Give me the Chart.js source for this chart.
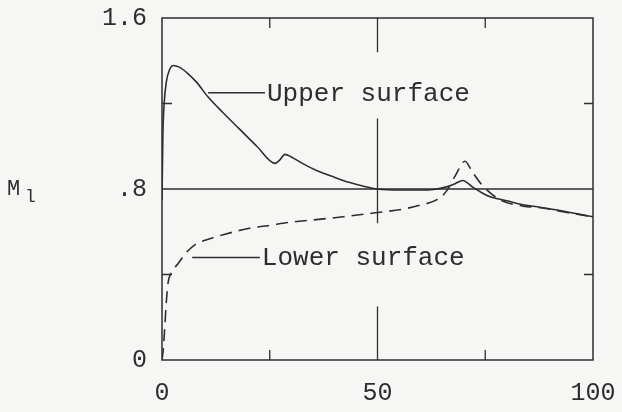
<!DOCTYPE html>
<html>
<head>
<meta charset="utf-8">
<script src="https://cdn.jsdelivr.net/npm/chart.js@4.4.0/dist/chart.umd.min.js"></script>
<style>
  html, body { margin: 0; padding: 0; background: #f6f6f5; }
  #wrap { width: 622px; height: 412px; }
</style>
</head>
<body>
<div id="wrap"><canvas id="chart" width="622" height="412"></canvas></div>
<script>
// chordwise station, percent chord
const upperX = [0, 0.2, 0.5, 1, 1.8, 2.6, 4, 6, 8, 10.7, 14, 18, 22, 26.2, 27.3, 28.5, 30, 33, 36, 40, 43.6, 47, 50, 55, 60, 63, 66, 68, 69.8, 72, 74, 76, 80, 84, 87.7, 92, 96, 100];
const upperM = [0.75, 1.05, 1.2, 1.3, 1.36, 1.378, 1.37, 1.34, 1.30, 1.23, 1.16, 1.08, 1.0, 0.92, 0.935, 0.962, 0.95, 0.915, 0.885, 0.855, 0.83, 0.812, 0.8, 0.795, 0.795, 0.798, 0.81, 0.825, 0.84, 0.81, 0.785, 0.765, 0.745, 0.725, 0.715, 0.70, 0.685, 0.67];

const lowerX = [0, 0.3, 0.6, 1, 1.4, 2.2, 3.7, 5.5, 7.7, 10, 14, 20, 25, 30, 35, 42, 50, 55.7, 60, 63.8, 66, 68, 70.3, 72, 74.2, 78.4, 83.8, 88, 94, 100];
const lowerM = [0, 0.05, 0.14, 0.27, 0.36, 0.41, 0.45, 0.5, 0.54, 0.56, 0.585, 0.615, 0.63, 0.645, 0.655, 0.67, 0.69, 0.705, 0.725, 0.75, 0.79, 0.86, 0.93, 0.88, 0.82, 0.75, 0.72, 0.712, 0.69, 0.67];

const xTickLabels = [0, 50, 100];
const yTickLabels = [0, 0.8, 1.6];
const minorXTicks = [25, 75];
const minorYTicks = [0.4, 1.2];

// label leaders: [x0, x1, M] in data units, then text
const upperLeader = [10.7, 23.9, 1.25];
const lowerLeader = [7, 22.7, 0.48];
const upperText = 'Upper surface';
const lowerText = 'Lower surface';

// broken reference line at 50 percent: [from, to] in M
const midLineParts = [[1.6, 1.44], [1.13, 0.64], [0.25, 0]];
const refM = 0.8;

const INK = '#2e2e2e';
const FONT = 'Liberation Mono, DejaVu Sans Mono, monospace';

const paperPlugin = {
    id: 'paper',
    afterDatasetsDraw(chart) {
        const {ctx, chartArea: a, scales: {x, y}} = chart;
        ctx.save();
        ctx.strokeStyle = INK;
        ctx.lineWidth = 1.5;
        ctx.strokeRect(a.left, a.top, a.right - a.left, a.bottom - a.top);

        ctx.beginPath();
        ctx.lineWidth = 1.3;
        ctx.moveTo(a.left, y.getPixelForValue(refM));
        ctx.lineTo(a.right, y.getPixelForValue(refM));
        midLineParts.forEach(p => {
            ctx.moveTo(x.getPixelForValue(50), y.getPixelForValue(p[0]));
            ctx.lineTo(x.getPixelForValue(50), y.getPixelForValue(p[1]));
        });
        // inward ticks
        minorXTicks.forEach(v => {
            const px = x.getPixelForValue(v);
            ctx.moveTo(px, a.top); ctx.lineTo(px, a.top + 10);
            ctx.moveTo(px, a.bottom); ctx.lineTo(px, a.bottom - 10);
        });
        minorYTicks.forEach(v => {
            const py = y.getPixelForValue(v);
            ctx.moveTo(a.left, py); ctx.lineTo(a.left + 10, py);
            ctx.moveTo(a.right, py); ctx.lineTo(a.right - 9, py);
        });
        ctx.stroke();

        // leaders and labels
        ctx.lineWidth = 1.5;
        ctx.beginPath();
        [upperLeader, lowerLeader].forEach(l => {
            ctx.moveTo(x.getPixelForValue(l[0]), y.getPixelForValue(l[2]));
            ctx.lineTo(x.getPixelForValue(l[1]), y.getPixelForValue(l[2]));
        });
        ctx.stroke();

        ctx.fillStyle = INK;
        ctx.font = '26px ' + FONT;
        ctx.textBaseline = 'middle';
        ctx.textAlign = 'left';
        ctx.fillText(upperText, x.getPixelForValue(upperLeader[1]) + 2, y.getPixelForValue(upperLeader[2]) + 1);
        ctx.fillText(lowerText, x.getPixelForValue(lowerLeader[1]) + 2, y.getPixelForValue(lowerLeader[2]) + 1);

        // axis title M with subscript l
        ctx.font = '22px ' + FONT;
        ctx.fillText('M', 7, 189);
        ctx.font = '18px ' + FONT;
        ctx.fillText('l', 25, 197);
        ctx.restore();
    }
};

new Chart(document.getElementById('chart'), {
    type: 'line',
    data: {
        datasets: [
            {
                label: 'Upper surface',
                data: upperX.map((v, i) => ({x: v, y: upperM[i]})),
                borderColor: INK,
                borderWidth: 1.6,
                pointRadius: 0,
                cubicInterpolationMode: 'monotone'
            },
            {
                label: 'Lower surface',
                data: lowerX.map((v, i) => ({x: v, y: lowerM[i]})),
                borderColor: INK,
                borderWidth: 1.6,
                borderDash: [12, 7],
                pointRadius: 0,
                cubicInterpolationMode: 'monotone'
            }
        ]
    },
    options: {
        responsive: false,
        animation: false,
        layout: { padding: { top: 18, right: 29, left: 0, bottom: 0 } },
        plugins: { legend: { display: false }, tooltip: { enabled: false } },
        scales: {
            x: {
                type: 'linear', min: 0, max: 100,
                grid: { display: false, drawTicks: false },
                border: { display: false },
                afterFit: s => { s.height = 52; s.paddingLeft = 0; s.paddingRight = 0; },
                afterBuildTicks: s => { s.ticks = xTickLabels.map(v => ({value: v})); },
                ticks: {
                    padding: 18, color: INK, maxRotation: 0,
                    font: { family: FONT, size: 25 },
                    callback: v => String(v)
                }
            },
            y: {
                type: 'linear', min: 0, max: 1.6,
                grid: { display: false, drawTicks: false },
                border: { display: false },
                afterFit: s => { s.width = 162; s.paddingTop = 0; s.paddingBottom = 0; },
                afterBuildTicks: s => { s.ticks = yTickLabels.map(v => ({value: v})); },
                ticks: {
                    padding: 15, color: INK,
                    font: { family: FONT, size: 25 },
                    callback: v => v === 0 ? '0' : (v < 1 ? String(v).replace('0.', '.') : v.toFixed(1))
                }
            }
        }
    },
    plugins: [paperPlugin]
});
</script>
</body>
</html>
